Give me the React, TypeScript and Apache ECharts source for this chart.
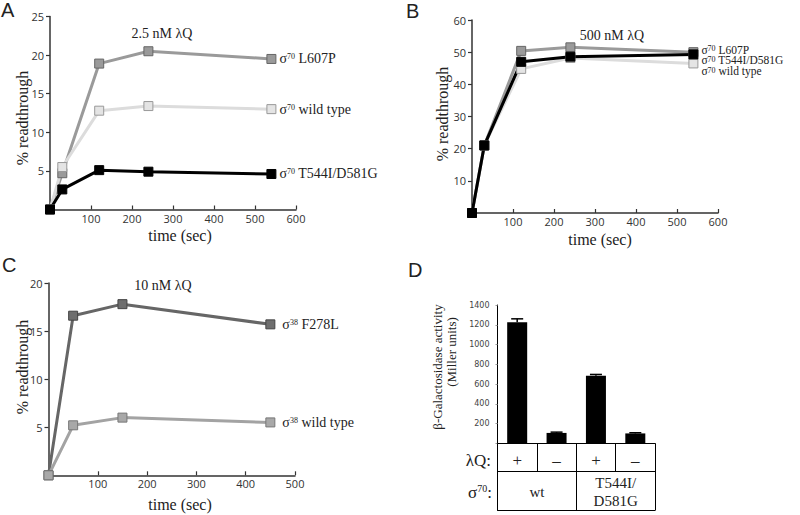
import React, { useEffect, useRef } from "react";
import * as echarts from "echarts";

// ---- Panel A (2.5 nM λQ) ----
const timesA = [0, 30, 120, 240, 540];
const aL607P = [0, 4.7, 18.9, 20.5, 19.5];
const aWildType = [0, 5.5, 12.8, 13.4, 13.0];
const aT544I = [0, 2.6, 5.1, 4.9, 4.6];

// ---- Panel B (500 nM λQ) ----
const timesB = [0, 30, 120, 240, 540];
const bL607P = [0, 21.0, 50.4, 51.5, 50.0];
const bT544I = [0, 21.0, 47.0, 48.6, 49.3];
const bWildType = [0, 21.0, 44.8, 48.2, 46.5];

// ---- Panel C (10 nM λQ) ----
const timesC = [0, 50, 150, 450];
const cF278L = [0, 16.6, 17.8, 15.7];
const cWildType = [0, 5.2, 6.0, 5.5];

// ---- Panel D (β-galactosidase) ----
const dLambdaQ = ["+", "–", "+", "–"];
const dSigma = ["wt", "T544I/\nD581G"];
const dValues = [1225, 105, 685, 100];
const dErrors = [35, 8, 12, 7];

const xTicksA = [0, 600, 100];
const yTicksA = [0, 25, 5];
const yTicksB = [0, 60, 10];
const xTicksC = [0, 500, 100];
const yTicksC = [0, 20, 5];
const yTicksD = [0, 1400, 200];

const serif = '"Liberation Serif", "Times New Roman", serif';
const sans = '"Open Sans", "DejaVu Sans", sans-serif';
const ink = "#222";

const richSigma = (size: number) => ({
  s: { fontFamily: serif, fontSize: size, lineHeight: size - 2, fontWeight: "normal", color: ink },
  p: { fontFamily: serif, fontSize: 8, fontWeight: "normal", color: ink, verticalAlign: "top", lineHeight: 7 },
  t: { fontFamily: serif, fontSize: size, lineHeight: size - 2, fontWeight: "normal", color: ink },
});
const sigmaText = (sup: string, rest: string) => `{s|σ}{p|${sup}}{t| ${rest}}`;

const pairs = (t: number[], v: number[]) => t.map((x, i) => [x, v[i]]);

const hideZero = (v: number) => (v === 0 ? "" : String(v));

function valueX(grid: number, r: number[]) {
  return {
    gridIndex: grid,
    type: "value",
    min: r[0],
    max: r[1],
    interval: r[2],
    axisLine: { show: true, onZero: false, lineStyle: { color: "#333", width: 1.5 } },
    axisTick: { show: true, inside: true, length: 4, lineStyle: { color: "#333", width: 1.2 } },
    axisLabel: { formatter: hideZero, margin: 3, fontFamily: sans, fontSize: 11, color: "#333" },
    splitLine: { show: false },
  };
}
function valueY(grid: number, r: number[]) {
  return {
    gridIndex: grid,
    type: "value",
    min: r[0],
    max: r[1],
    interval: r[2],
    axisLine: { show: true, onZero: false, lineStyle: { color: "#333", width: 1.5 } },
    axisTick: { show: true, inside: false, length: 4, lineStyle: { color: "#333", width: 1.2 } },
    axisLabel: { formatter: hideZero, margin: 6, fontFamily: sans, fontSize: 11, color: "#333" },
    splitLine: { show: false },
  };
}

function lineSeries(
  axis: number,
  data: number[][],
  line: string,
  fill: string,
  border: string,
  label: string,
  sup: string,
  dist: number,
  dy: number,
  size = 14
) {
  return {
    type: "line",
    xAxisIndex: axis,
    yAxisIndex: axis,
    data,
    symbol: "rect",
    symbolSize: 9,
    lineStyle: { color: line, width: 3 },
    itemStyle: { color: fill, borderColor: border, borderWidth: 1 },
    endLabel: {
      show: true,
      formatter: sigmaText(sup, label),
      rich: richSigma(size),
      distance: dist,
      offset: [0, dy],
    },
    silent: true,
  };
}

export default function App() {
  const ref = useRef<HTMLDivElement>(null);
  useEffect(() => {
    if (!ref.current) return;
    const chart = echarts.init(ref.current, undefined, { renderer: "svg" });

    const txt = (
      text: string,
      x: number,
      y: number,
      size: number,
      family: string,
      align = "center",
      rotation = 0,
      vAlign = "middle"
    ) => ({
      type: "text",
      x,
      y,
      rotation,
      silent: true,
      style: {
        text,
        fontFamily: family,
        fontSize: size,
        fontWeight: "normal",
        fill: ink,
        align,
        verticalAlign: vAlign,
      },
    });

    const letterFont = '"Liberation Sans", Arial, sans-serif';

    const option: any = {
      animation: false,
      backgroundColor: "#ffffff",
      grid: [
        { left: 50, top: 16.5, width: 246, height: 193 },
        { left: 472, top: 20, width: 246, height: 193 },
        { left: 48.5, top: 283, width: 246.5, height: 192.3 },
        { left: 497.5, top: 305, width: 157.5, height: 138.3 },
      ],
      xAxis: [
        valueX(0, xTicksA),
        valueX(1, xTicksA),
        valueX(2, xTicksC),
        {
          gridIndex: 3,
          type: "category",
          data: dLambdaQ,
          position: "bottom",
          axisLine: { show: true, lineStyle: { color: "#000", width: 1 } },
          axisTick: { show: true, interval: 0, length: 27.7, lineStyle: { color: "#000", width: 1 } },
          axisLabel: {
            interval: 0,
            margin: 17,
            verticalAlign: "middle",
            fontFamily: serif,
            fontSize: 17,
            color: ink,
          },
          splitLine: { show: false },
        },
        {
          gridIndex: 3,
          type: "category",
          data: dSigma,
          position: "bottom",
          offset: 27.7,
          axisLine: { show: true, lineStyle: { color: "#000", width: 1 } },
          axisTick: { show: true, interval: 0, length: 39.3, lineStyle: { color: "#000", width: 1 } },
          axisLabel: {
            interval: 0,
            margin: 21,
            verticalAlign: "middle",
            fontFamily: serif,
            fontSize: 15,
            lineHeight: 18,
            color: ink,
          },
          splitLine: { show: false },
        },
        {
          gridIndex: 3,
          type: "category",
          data: dLambdaQ,
          position: "bottom",
          offset: 67,
          axisLine: { show: true, lineStyle: { color: "#000", width: 1 } },
          axisTick: { show: false },
          axisLabel: { show: false },
          splitLine: { show: false },
        },
      ],
      yAxis: [
        valueY(0, yTicksA),
        valueY(1, yTicksB),
        valueY(2, yTicksC),
        {
          gridIndex: 3,
          type: "value",
          min: yTicksD[0],
          max: yTicksD[1],
          interval: yTicksD[2],
          axisLine: { show: true, lineStyle: { color: "#000", width: 1 } },
          axisTick: { show: true, length: 2, lineStyle: { color: "#999" } },
          axisLabel: {
            formatter: hideZero,
            margin: 8,
            fontFamily: '"DejaVu Sans", Verdana, sans-serif',
            fontSize: 8,
            color: "#444",
          },
          splitLine: { show: false },
        },
      ],
      series: [
        // Panel A
        lineSeries(0, pairs(timesA, aL607P), "#9a9a9a", "#9a9a9a", "#666", "L607P", "70", 8, 0),
        lineSeries(0, pairs(timesA, aWildType), "#dcdcdc", "#e4e4e4", "#999", "wild type", "70", 8, 0),
        lineSeries(0, pairs(timesA, aT544I), "#000", "#000", "#000", "T544I/D581G", "70", 8, 0),
        // Panel B
        lineSeries(1, pairs(timesB, bWildType), "#dcdcdc", "#e4e4e4", "#999", "wild type", "70", 8, 8, 11.5),
        lineSeries(1, pairs(timesB, bL607P), "#9a9a9a", "#9a9a9a", "#666", "L607P", "70", 8, -2.5, 11.5),
        lineSeries(1, pairs(timesB, bT544I), "#000", "#000", "#000", "T544I/D581G", "70", 8, 6, 11.5),
        // Panel C
        lineSeries(2, pairs(timesC, cF278L), "#666", "#6e6e6e", "#444", "F278L", "38", 12, 0),
        lineSeries(2, pairs(timesC, cWildType), "#a3a3a3", "#a8a8a8", "#777", "wild type", "38", 12, 0),
        // Panel D
        {
          type: "bar",
          xAxisIndex: 3,
          yAxisIndex: 3,
          data: dValues,
          barWidth: 20,
          itemStyle: { color: "#000" },
          silent: true,
        },
        {
          type: "custom",
          xAxisIndex: 3,
          yAxisIndex: 3,
          data: dValues.map((v, i) => [i, v, v + dErrors[i]]),
          renderItem: (params: any, api: any) => {
            const base = api.coord([api.value(0), api.value(1)]);
            const top = api.coord([api.value(0), api.value(2)]);
            return {
              type: "group",
              children: [
                {
                  type: "line",
                  shape: { x1: base[0], y1: base[1], x2: top[0], y2: top[1] },
                  style: { stroke: "#000", lineWidth: 1.5 },
                },
                {
                  type: "line",
                  shape: { x1: top[0] - 6, y1: top[1], x2: top[0] + 6, y2: top[1] },
                  style: { stroke: "#000", lineWidth: 1.5 },
                },
              ],
            };
          },
          silent: true,
          z: 3,
        },
      ],
      graphic: [
        txt("A", 1, 0, 20, letterFont, "left", 0, "top"),
        txt("B", 406, 1, 20, letterFont, "left", 0, "top"),
        txt("C", 2, 255, 20, letterFont, "left", 0, "top"),
        txt("D", 408, 260, 20, letterFont, "left", 0, "top"),
        txt("2.5 nM λQ", 162, 33, 14, serif),
        txt("500 nM λQ", 612, 35, 14, serif),
        txt("10 nM λQ", 163, 285, 14, serif),
        txt("% readthrough", 22, 118, 16, serif, "center", Math.PI / 2),
        txt("% readthrough", 442, 114, 16, serif, "center", Math.PI / 2),
        txt("% readthrough", 22, 367, 16, serif, "center", Math.PI / 2),
        txt("time (sec)", 180, 235, 16, serif),
        txt("time (sec)", 600, 239, 16, serif),
        txt("time (sec)", 180, 504, 16, serif),
        txt("β-Galactosidase activity", 437, 367, 13, serif, "center", Math.PI / 2),
        txt("(Miller units)", 451, 352, 13, serif, "center", Math.PI / 2),
        txt("λQ:", 491, 460, 17, serif, "right"),
        {
          type: "text",
          x: 492,
          y: 492,
          silent: true,
          style: {
            text: "{s|σ}{p|70}{t|:}",
            rich: {
              s: { fontFamily: serif, fontSize: 17, fontWeight: "normal", fill: ink },
              p: { fontFamily: serif, fontSize: 10, fontWeight: "normal", fill: ink, verticalAlign: "top", lineHeight: 10 },
              t: { fontFamily: serif, fontSize: 17, fontWeight: "normal", fill: ink },
            },
            align: "right",
            verticalAlign: "middle",
          },
        },
      ],
    };
    chart.setOption(option);
    return () => chart.dispose();
  }, []);
  return (
    <div
      ref={ref}
      style={{ position: "fixed", left: 0, top: 0, width: 800, height: 515, background: "#fff" }}
    />
  );
}
